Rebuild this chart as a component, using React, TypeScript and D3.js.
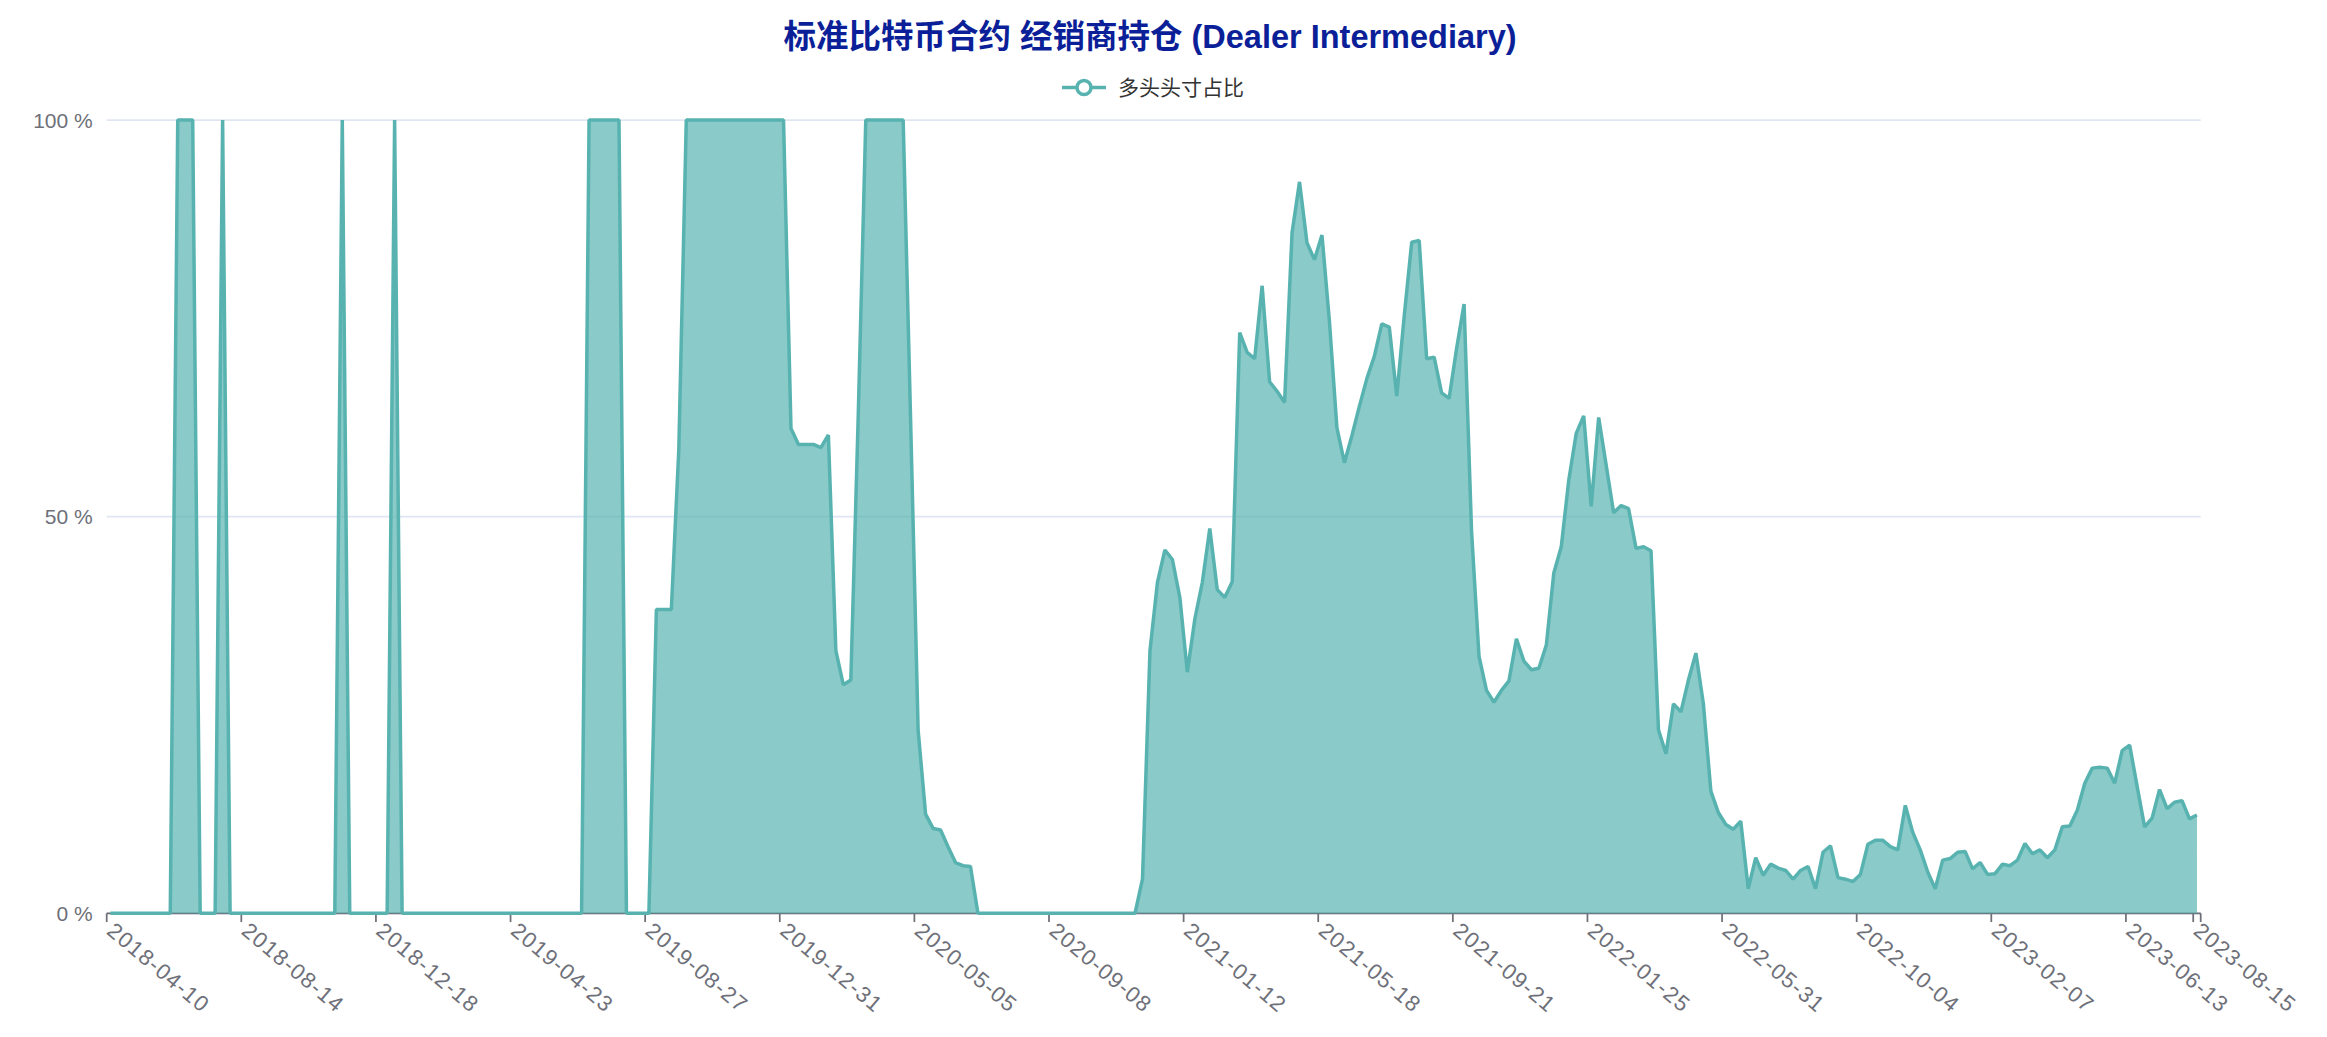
import React from "react";
import * as d3 from "d3";

// ---- data ----
const startDate = "2018-04-10"; // weekly categories (Tuesdays)
const longShare: number[] = [
  // 0-19
  0, 0, 0, 0, 0, 0, 0, 0, 0, 100, 100, 100, 0, 0, 0, 100, 0, 0, 0, 0,
  // 20-39
  0, 0, 0, 0, 0, 0, 0, 0, 0, 0, 0, 100, 0, 0, 0, 0, 0, 0, 100, 0,
  // 40-59
  0, 0, 0, 0, 0, 0, 0, 0, 0, 0, 0, 0, 0, 0, 0, 0, 0, 0, 0, 0,
  // 60-79
  0, 0, 0, 0, 100, 100, 100, 100, 100, 0, 0, 0, 0, 38.3, 38.3, 38.3, 58.5, 100, 100, 100,
  // 80-99
  100, 100, 100, 100, 100, 100, 100, 100, 100, 100, 100, 61.1, 59.1, 59.1, 59.1, 58.7, 60.3, 33.1, 28.8, 29.4,
  // 100-119
  63, 100, 100, 100, 100, 100, 100, 62, 23.1, 12.5, 10.7, 10.5, 8.4, 6.4, 6.0, 5.9, 0, 0, 0, 0,
  // 120-139
  0, 0, 0, 0, 0, 0, 0, 0, 0, 0, 0, 0, 0, 0, 0, 0, 0, 0, 4.3, 33.1,
  // 140-159
  41.7, 45.8, 44.6, 39.8, 30.4, 37.1, 41.7, 48.5, 40.8, 39.8, 41.8, 73.2, 70.7, 69.9, 79.1, 67.0, 65.8, 64.4, 85.8, 92.2,
  // 160-179
  84.5, 82.4, 85.5, 74.6, 61.2, 56.8, 60.2, 63.9, 67.4, 70.2, 74.3, 73.9, 65.2, 75.3, 84.6, 84.8, 69.9, 70.1, 65.6, 64.9,
  // 180-199
  71.2, 76.8, 48.2, 32.4, 28.1, 26.6, 28.1, 29.3, 34.6, 31.8, 30.7, 30.9, 33.8, 42.9, 46.2, 54.6, 60.5, 62.7, 51.3, 62.5,
  // 200-219
  56.5, 50.5, 51.4, 51.0, 46.0, 46.2, 45.7, 23.1, 20.1, 26.4, 25.4, 29.4, 32.8, 26.4, 15.4, 12.7, 11.2, 10.6, 11.6, 3.1,
  // 220-239
  7.0, 4.8, 6.2, 5.7, 5.4, 4.3, 5.4, 5.9, 3.1, 7.7, 8.5, 4.5, 4.3, 4.0, 4.9, 8.7, 9.2, 9.2, 8.4, 8.0,
  // 240-259
  13.6, 10.2, 8.0, 5.2, 3.1, 6.7, 6.9, 7.7, 7.8, 5.6, 6.4, 4.9, 5.0, 6.2, 6.0, 6.7, 8.8, 7.5, 8.0, 7.0,
  // 260-279
  8.0, 10.9, 11.0, 13.0, 16.4, 18.3, 18.4, 18.3, 16.4, 20.5, 21.2, 16.0, 10.9, 12.0, 15.6, 13.2, 14.0, 14.2, 11.9, 12.4,
];
const labelIndices: number[] = [0, 18, 36, 54, 72, 90, 108, 126, 144, 162, 180, 198, 216, 234, 252, 270, 279];
const yTicks: number[] = [0, 50, 100];
const titleText = "标准比特币合约 经销商持仓 (Dealer Intermediary)";
const legendText = "多头头寸占比";

const fmt = d3.utcFormat("%Y-%m-%d");
const start = d3.utcParse("%Y-%m-%d")(startDate) as Date;
const categories: string[] = longShare.map((_, i) => fmt(d3.utcDay.offset(start, 7 * i)));

// ---- layout ----
const W = 2327;
const H = 1037;
const X0 = 106.7;
const X1 = 2200.7;
const YTOP = 120;
const YBOT = 913.3;
const COLOR = "#58b3b0";
const FONT = "'Liberation Sans', 'Noto Sans CJK SC', sans-serif";

export default function App() {
  const band = d3.scaleBand<string>().domain(categories).range([X0, X1]).paddingInner(0).paddingOuter(0);
  const step = band.step();
  const xc = (i: number) => (band(categories[i]) as number) + step / 2;
  const y = d3.scaleLinear().domain([0, 100]).range([YBOT, YTOP]);

  const area = d3
    .area<number>()
    .x((_, i) => xc(i))
    .y0(YBOT)
    .y1((d) => y(d));
  const line = d3
    .line<number>()
    .x((_, i) => xc(i))
    .y((d) => y(d));

  const tickPositions = [...labelIndices.map((i) => X0 + i * step), X1];

  return (
    <svg
      width={W}
      height={H}
      style={{ position: "absolute", left: 0, top: 0, background: "#fff" }}
      fontFamily={FONT}
    >
      {/* title */}
      <text x={1150} y={37} textAnchor="middle" dominantBaseline="central" fontSize={32.5} fontWeight="bold" fill="#0b1f98">
        {titleText}
      </text>
      {/* legend */}
      <g>
        <line x1={1062} x2={1106} y1={87.5} y2={87.5} stroke={COLOR} strokeWidth={3.5} />
        <circle cx={1084} cy={87.5} r={7} fill="#fff" stroke={COLOR} strokeWidth={3.5} />
        <text x={1118} y={87.5} dominantBaseline="central" fontSize={21} fill="#333">
          {legendText}
        </text>
      </g>
      {/* grid */}
      {yTicks.map((t) => (
        <g key={t}>
          <line x1={X0} x2={X1} y1={y(t)} y2={y(t)} stroke="#e0e6f1" strokeWidth={1.75} />
          <text x={X0 - 14} y={y(t)} textAnchor="end" dominantBaseline="central" fontSize={21} fill="#6e7079">
            {`${t} %`}
          </text>
        </g>
      ))}
      {/* x axis */}
      <line x1={X0} x2={X1} y1={YBOT} y2={YBOT} stroke="#6e7079" strokeWidth={1.75} />
      {tickPositions.map((p, k) => (
        <line key={k} x1={p} x2={p} y1={YBOT} y2={YBOT + 8.75} stroke="#6e7079" strokeWidth={1.75} />
      ))}
      {labelIndices.map((i) => {
        const lx = xc(i);
        const ly = YBOT + 14;
        return (
          <text
            key={i}
            x={lx}
            y={ly}
            transform={`rotate(40 ${lx} ${ly})`}
            textAnchor="start"
            dominantBaseline="central"
            fontSize={22}
            letterSpacing={1.3}
            fill="#6e7079"
          >
            {categories[i]}
          </text>
        );
      })}
      {/* series */}
      <path d={area(longShare) as string} fill={COLOR} fillOpacity={0.7} />
      <path d={line(longShare) as string} fill="none" stroke={COLOR} strokeWidth={3.5} strokeLinejoin="bevel" />
    </svg>
  );
}
